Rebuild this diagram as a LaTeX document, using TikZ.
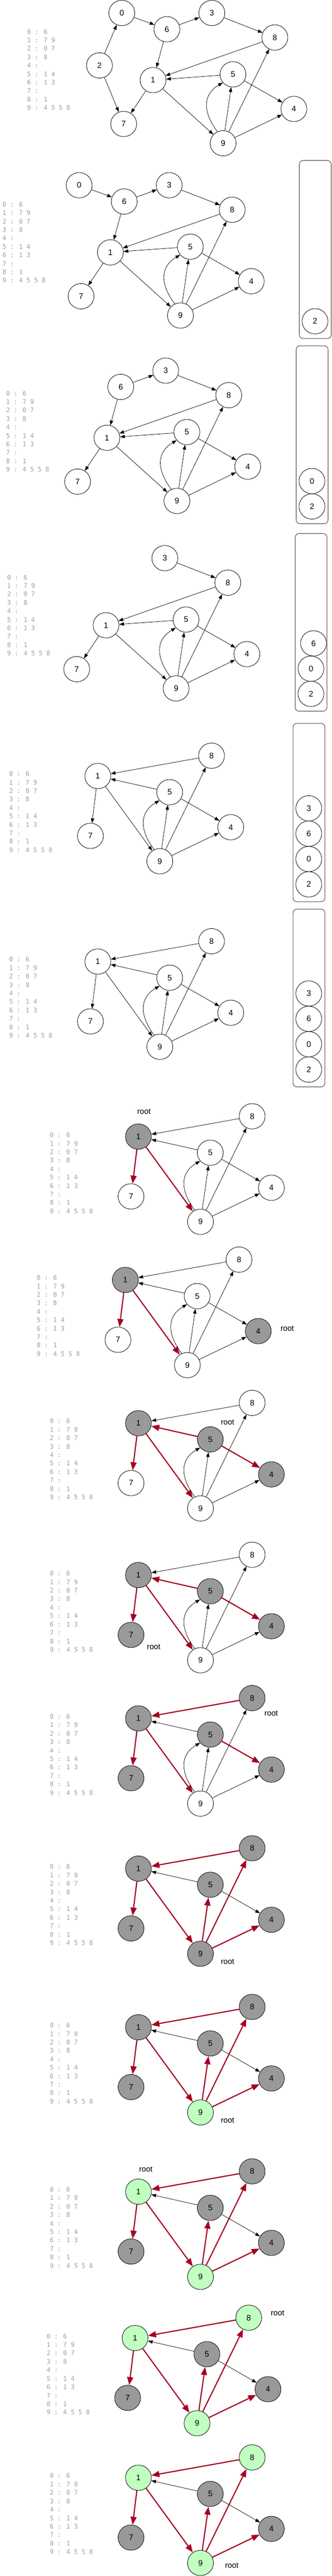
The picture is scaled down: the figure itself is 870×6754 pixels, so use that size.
\documentclass[tikz,border=0pt]{standalone}
\usepackage{fontspec}
\setmainfont{Liberation Sans}
\newfontfamily\lstfont{DejaVu Sans Mono}
\usetikzlibrary{arrows.meta,shapes.geometric,calc}

\definecolor{visgray}{HTML}{999999}
\definecolor{fingreen}{HTML}{C0FFC0}
\definecolor{rededge}{HTML}{A50022}
\definecolor{lstgray}{HTML}{95A5A6}
\definecolor{framegray}{HTML}{404040}

\newif\ifhastwo
\newif\ifhaszero
\newif\ifhassix
\newif\ifcurve

\tikzset{
  vtx/.style={ellipse, draw=black, line width=1.1pt, minimum width=68pt, minimum height=66.5pt,
    inner sep=0pt, fill=white, font=\fontsize{21}{24}\selectfont},
  blk/.style={-{Triangle[length=12.5pt,width=9pt]}, line width=1pt, black},
  redarr/.style={-{Triangle[length=21pt,width=16pt]}, line width=3pt, rededge},
  lstline/.style={anchor=base west, inner sep=0pt, text=lstgray, font=\lstfont\fontsize{16.6}{20}\selectfont},
  rootlbl/.style={inner sep=0pt, font=\fontsize{20.5}{24}\selectfont},
  frame/.style={draw=framegray, line width=1.3pt, rounded corners=10pt, anchor=north west,
    minimum width=83.5pt, inner sep=0pt},
  s1/.style={}, s4/.style={}, s5/.style={}, s7/.style={}, s8/.style={}, s9/.style={},
  e81/.style={blk}, e51/.style={blk}, e54/.style={blk}, e17/.style={blk},
  e19/.style={blk}, e94/.style={blk}, e95/.style={blk}, e98/.style={blk},
}

\newcommand\resetB{\tikzset{s1/.style={}, s4/.style={}, s5/.style={}, s7/.style={}, s8/.style={}, s9/.style={},
  e81/.style={blk}, e51/.style={blk}, e54/.style={blk}, e17/.style={blk},
  e19/.style={blk}, e94/.style={blk}, e95/.style={blk}, e98/.style={blk}}}

\newcommand\listing[3]{%
  \foreach \t [count=\i from 0] in {{0 : 6},{1 : 7 9},{2 : 0 7},{3 : 8},{4 :},{5 : 1 4},{6 : 1 3},{7 :},{8 : 1},{9 : 4 5 5 8}}
  {\node[lstline] (#1-l\i) at (#2,#3+6.05+\i*22.16) {\t};}%
}

\newcommand\layoutA[3]{%
  \begin{scope}[shift={(#2,#3)}]
    \ifhaszero\node[vtx] (#1-0) at (-82,-176) {0};\fi
    \ifhassix\node[vtx] (#1-6) at (36.3,-133.4) {6};\fi
    \node[vtx] (#1-3) at (154.3,-176) {3};
    \node[vtx] (#1-8) at (319.6,-111.7) {8};
    \ifhastwo\node[vtx] (#1-2) at (-140.6,-38.5) {2};\fi
    \node[vtx] (#1-1) at (0,0) {1};
    \node[vtx] (#1-5) at (209.8,-15) {5};
    \node[vtx] (#1-4) at (369.6,75.6) {4};
    \node[vtx] (#1-7) at (-77,115) {7};
    \node[vtx] (#1-9) at (183.8,165.6) {9};
  \end{scope}
  \ifhastwo \draw[blk] (#1-2) -- (#1-0); \draw[blk] (#1-2) -- (#1-7);\fi
  \ifhaszero \draw[blk] (#1-0) -- (#1-6);\fi
  \ifhassix \draw[blk] (#1-6) -- (#1-3); \draw[blk] (#1-6) -- (#1-1);\fi
  \draw[blk] (#1-3) -- (#1-8);
  \draw[blk] (#1-8) -- (#1-1);
  \draw[blk] (#1-5) -- (#1-1);
  \draw[blk] (#1-5) -- (#1-4);
  \draw[blk] (#1-1) -- (#1-7);
  \draw[blk] (#1-1) -- (#1-9);
  \draw[blk] (#1-9) -- (#1-4);
  \draw[blk] (#1-9) -- (#1-5);
  \draw[blk] (#1-9) -- (#1-8);
  \draw[blk] (#1-9.116) .. controls ($(#1-9)+(-53.5,-82)$) and ($(#1-5)+(-80,53)$) .. (#1-5.219);
}

\newcommand\layoutB[3]{%
  \begin{scope}[shift={(#2,#3)}]
    \node[vtx,s8] (#1-8) at (298.4,-53.3) {8};
    \node[vtx,s1] (#1-1) at (0,0) {1};
    \node[vtx,s5] (#1-5) at (188.6,42.4) {5};
    \node[vtx,s4] (#1-4) at (348.9,134.2) {4};
    \node[vtx,s7] (#1-7) at (-19.4,156.9) {7};
    \node[vtx,s9] (#1-9) at (162.8,223.4) {9};
  \end{scope}
  \draw[e81] (#1-8) -- (#1-1);
  \draw[e51] (#1-5) -- (#1-1);
  \draw[e54] (#1-5) -- (#1-4);
  \draw[e17] (#1-1) -- (#1-7);
  \draw[e19] (#1-1) -- (#1-9);
  \draw[e94] (#1-9) -- (#1-4);
  \draw[e95] (#1-9) -- (#1-5);
  \draw[e98] (#1-9) -- (#1-8);
  \ifcurve \draw[blk] (#1-9.116) .. controls ($(#1-9)+(-53.5,-82)$) and ($(#1-5)+(-80,53)$) .. (#1-5.219);\fi
}

\begin{document}
\begin{tikzpicture}[x=1pt,y=-1pt]
\useasboundingbox[fill=white] (0,0) rectangle (870,6754);

% ---------- Panel 1 ----------
\hastwotrue\haszerotrue\hassixtrue
\layoutA{p1}{401.6}{210}
\listing{p1}{71}{83.3}

% ---------- Panel 2 ----------
\hastwofalse
\layoutA{p2}{289.7}{661.7}
\listing{p2}{6.3}{536}
\node[frame, minimum height=467pt] (p2-stack) at (785,420) {};
\node[vtx] (p2-s2) at (826.7,842.3) {2};

% ---------- Panel 3 ----------
\haszerofalse
\layoutA{p3}{280.6}{1147.8}
\listing{p3}{15.7}{1031.5}
\node[frame, minimum height=466.7pt] (p3-stack) at (776.7,905.8) {};
\node[vtx] (p3-s0) at (818.7,1261.3) {0};
\node[vtx] (p3-s2) at (818.7,1327.8) {2};

% ---------- Panel 4 ----------
\hassixfalse
\layoutA{p4}{278.3}{1639.4}
\listing{p4}{18.4}{1513.7}
\node[frame, minimum height=465.7pt] (p4-stack) at (773.9,1398.3) {};
\node[vtx] (p4-s6) at (822.8,1686.7) {6};
\node[vtx] (p4-s0) at (816,1753.2) {0};
\node[vtx] (p4-s2) at (816,1819.3) {2};

% ---------- Panel 5 ----------
\resetB\curvetrue
\layoutB{p5}{256.7}{2034.7}
\listing{p5}{24}{2029.2}
\node[frame, minimum height=467.5pt] (p5-stack) at (768.3,1895.9) {};
\node[vtx] (p5-s3) at (810.3,2119.3) {3};
\node[vtx] (p5-s6) at (810.3,2185.8) {6};
\node[vtx] (p5-s0) at (810.3,2252.3) {0};
\node[vtx] (p5-s2) at (810.3,2318.7) {2};

% ---------- Panel 6 ----------
\layoutB{p6}{256.7}{2521.1}
\listing{p6}{24}{2515.6}
\node[frame, minimum height=466pt] (p6-stack) at (768.3,2383) {};
\node[vtx] (p6-s3) at (810.3,2604.8) {3};
\node[vtx] (p6-s6) at (810.3,2671.3) {6};
\node[vtx] (p6-s0) at (810.3,2737.8) {0};
\node[vtx] (p6-s2) at (810.3,2804.3) {2};

% ---------- Panel 7 ----------
\resetB
\tikzset{s1/.style={fill=visgray}, e17/.style={redarr}, e19/.style={redarr}}
\layoutB{p7}{363.3}{2980}
\listing{p7}{130.7}{2976.1}
\node[rootlbl] (p7-root) at (377.8,2914.9) {root};

% ---------- Panel 8 ----------
\resetB
\tikzset{s1/.style={fill=visgray}, s4/.style={fill=visgray}, e17/.style={redarr}, e19/.style={redarr}}
\layoutB{p8}{328.9}{3355.8}
\listing{p8}{96.2}{3350.3}
\node[rootlbl] (p8-root) at (753.9,3483.6) {root};

% ---------- Panel 9 ----------
\resetB
\tikzset{s1/.style={fill=visgray}, s4/.style={fill=visgray}, s5/.style={fill=visgray},
  e17/.style={redarr}, e19/.style={redarr}, e51/.style={redarr}, e54/.style={redarr}}
\layoutB{p9}{363.3}{3731.5}
\listing{p9}{130.7}{3726}
\node[rootlbl] (p9-root) at (597.2,3728.4) {root};

% ---------- Panel 10 ----------
\resetB
\tikzset{s1/.style={fill=visgray}, s4/.style={fill=visgray}, s5/.style={fill=visgray}, s7/.style={fill=visgray},
  e17/.style={redarr}, e19/.style={redarr}, e51/.style={redarr}, e54/.style={redarr}}
\layoutB{p10}{363.3}{4129.6}
\listing{p10}{130.7}{4125.7}
\node[rootlbl] (p10-root) at (403.3,4317.9) {root};

% ---------- Panel 11 ----------
\resetB
\tikzset{s1/.style={fill=visgray}, s4/.style={fill=visgray}, s5/.style={fill=visgray}, s7/.style={fill=visgray},
  s8/.style={fill=visgray},
  e81/.style={redarr}, e17/.style={redarr}, e19/.style={redarr}, e54/.style={redarr}}
\layoutB{p11}{363.3}{4505.4}
\listing{p11}{130.7}{4500.7}
\node[rootlbl] (p11-root) at (711.7,4492.8) {root};

% ---------- Panel 12 ----------
\resetB\curvefalse
\tikzset{s1/.style={fill=visgray}, s4/.style={fill=visgray}, s5/.style={fill=visgray}, s7/.style={fill=visgray},
  s8/.style={fill=visgray}, s9/.style={fill=visgray},
  e81/.style={redarr}, e17/.style={redarr}, e19/.style={redarr}, e95/.style={redarr}, e98/.style={redarr}, e94/.style={redarr}}
\layoutB{p12}{363.3}{4899.2}
\listing{p12}{130.7}{4894.5}
\node[rootlbl] (p12-root) at (597.2,5143.9) {root};

% ---------- Panel 13 ----------
\tikzset{s9/.style={fill=fingreen}}
\layoutB{p13}{363.3}{5315.2}
\listing{p13}{130.7}{5310.1}
\node[rootlbl] (p13-root) at (597.2,5559.1) {root};

% ---------- Panel 14 ----------
\tikzset{s1/.style={fill=fingreen}}
\layoutB{p14}{363.3}{5746.3}
\listing{p14}{130.7}{5740.7}
\node[rootlbl] (p14-root) at (382.8,5688.2) {root};

% ---------- Panel 15 ----------
\tikzset{s8/.style={fill=fingreen}}
\layoutB{p15}{354.4}{6130}
\listing{p15}{122.3}{6125.4}
\node[rootlbl] (p15-root) at (728.3,6065.2) {root};

% ---------- Panel 16 ----------
\layoutB{p16}{363.3}{6496.3}
\listing{p16}{130.7}{6491.2}
\node[rootlbl] (p16-root) at (608.3,6727) {root};

\end{tikzpicture}
\end{document}
